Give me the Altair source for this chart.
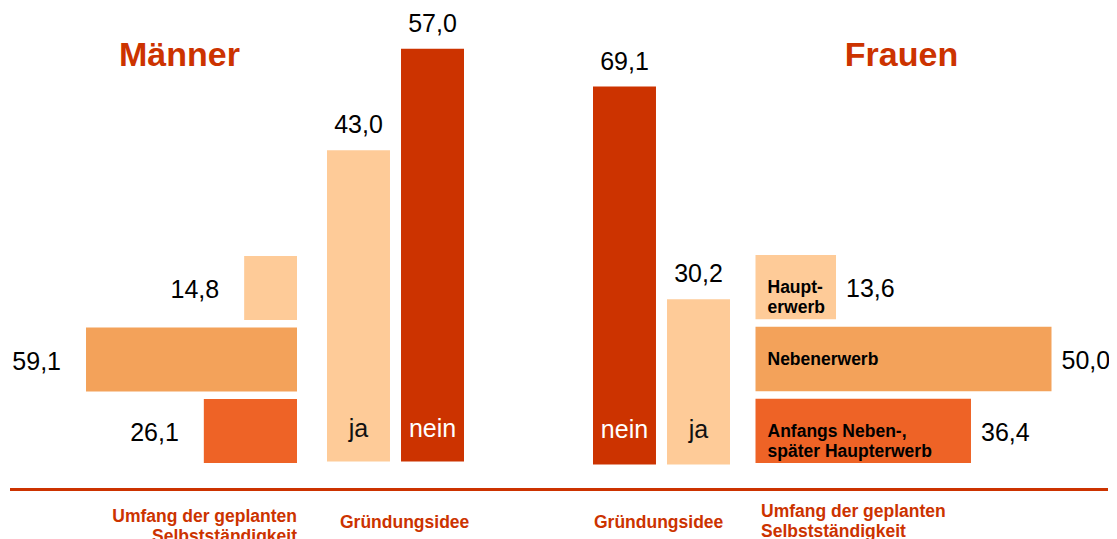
import altair as alt
import pandas as pd

# ---------------- data ----------------
umfang_cats = ["Haupterwerb", "Nebenerwerb", "Anfangs Neben-, später Haupterwerb"]
umfang_inner = ["Haupt-\nerwerb", "Nebenerwerb", "Anfangs Neben-,\nspäter Haupterwerb"]
maenner_umfang = [14.8, 59.1, 26.1]
frauen_umfang = [13.6, 50.0, 36.4]

idee_cats_m = ["ja", "nein"]
maenner_idee = [43.0, 57.0]
idee_cats_f = ["nein", "ja"]
frauen_idee = [69.1, 30.2]

titles = ["Männer", "Frauen"]
label_umfang = "Umfang der geplanten\nSelbstständigkeit"
label_idee = "Gründungsidee"

# ---------------- style ----------------
FONT = "Liberation Sans, Arial, Helvetica, sans-serif"
PEACH = "#FECB98"
MID = "#F3A25A"
ORANGE = "#EE6326"
RED = "#CC3300"
VAL_SIZE = 25


def fmt(v):
    return f"{v:.1f}".replace(".", ",")


color_enc = alt.Color(
    "cat:N",
    scale=alt.Scale(domain=umfang_cats + ["ja", "nein"],
                    range=[PEACH, MID, ORANGE, PEACH, RED]),
    legend=None,
)

# ---------------- Männer: Umfang (horizontal, growing left) ----------------
df_mu = pd.DataFrame({"cat": umfang_cats, "value": maenner_umfang,
                      "label": [fmt(v) for v in maenner_umfang]})
x1 = alt.Scale(domain=[0, 60], range=[289, 74.8], nice=False, zero=True)
yU1 = alt.Scale(type="band", domain=umfang_cats, range=[248, 455], paddingInner=0.105, paddingOuter=0)
p1 = alt.layer(
    alt.Chart(df_mu).mark_bar().encode(
        x=alt.X("value:Q", scale=x1, axis=None),
        y=alt.Y("cat:N", scale=yU1, axis=None, sort=None),
        color=color_enc),
    alt.Chart(df_mu).mark_text(align="right", baseline="middle", dx=-25, dy=2,
                               fontSize=VAL_SIZE, font=FONT, color="#000").encode(
        x=alt.X("value:Q", scale=x1, axis=None),
        y=alt.Y("cat:N", scale=yU1, axis=None, sort=None),
        text="label:N"),
)

# ---------------- Männer: Gründungsidee (vertical) ----------------
df_mi = pd.DataFrame({"cat": idee_cats_m, "value": maenner_idee,
                      "label": [fmt(v) for v in maenner_idee]})
x2 = alt.Scale(type="band", domain=idee_cats_m, range=[319, 456], paddingInner=0.149, paddingOuter=0)
y2 = alt.Scale(domain=[0, 60], range=[453.5, 19.1], nice=False, zero=True)
p2 = alt.layer(
    alt.Chart(df_mi).mark_bar().encode(
        x=alt.X("cat:N", scale=x2, axis=None, sort=None),
        y=alt.Y("value:Q", scale=y2, axis=None),
        color=color_enc),
    alt.Chart(df_mi).mark_text(baseline="alphabetic", dy=-17, fontSize=VAL_SIZE,
                               font=FONT, color="#000").encode(
        x=alt.X("cat:N", scale=x2, axis=None, sort=None),
        y=alt.Y("value:Q", scale=y2, axis=None),
        text="label:N"),
    alt.Chart(df_mi).transform_calculate(base="0").transform_filter(
        alt.datum.cat == "ja").mark_text(baseline="alphabetic", dy=-25, fontSize=VAL_SIZE,
                                         font=FONT, color="#111").encode(
        x=alt.X("cat:N", scale=x2, axis=None, sort=None),
        y=alt.Y("base:Q", scale=y2, axis=None),
        text="cat:N"),
    alt.Chart(df_mi).transform_calculate(base="0").transform_filter(
        alt.datum.cat == "nein").mark_text(baseline="alphabetic", dy=-25, fontSize=VAL_SIZE,
                                           font=FONT, color="#FFFFFF").encode(
        x=alt.X("cat:N", scale=x2, axis=None, sort=None),
        y=alt.Y("base:Q", scale=y2, axis=None),
        text="cat:N"),
)

# ---------------- Frauen: Gründungsidee (vertical) ----------------
df_fi = pd.DataFrame({"cat": idee_cats_f, "value": frauen_idee,
                      "label": [fmt(v) for v in frauen_idee]})
x3 = alt.Scale(type="band", domain=idee_cats_f, range=[585, 722], paddingInner=0.149, paddingOuter=0)
y3 = alt.Scale(domain=[0, 80], range=[456.5, 18.9], nice=False, zero=True)
p3 = alt.layer(
    alt.Chart(df_fi).mark_bar().encode(
        x=alt.X("cat:N", scale=x3, axis=None, sort=None),
        y=alt.Y("value:Q", scale=y3, axis=None),
        color=color_enc),
    alt.Chart(df_fi).mark_text(baseline="alphabetic", dy=-17, fontSize=VAL_SIZE,
                               font=FONT, color="#000").encode(
        x=alt.X("cat:N", scale=x3, axis=None, sort=None),
        y=alt.Y("value:Q", scale=y3, axis=None),
        text="label:N"),
    alt.Chart(df_fi).transform_calculate(base="0").transform_filter(
        alt.datum.cat == "ja").mark_text(baseline="alphabetic", dy=-27, fontSize=VAL_SIZE,
                                         font=FONT, color="#111").encode(
        x=alt.X("cat:N", scale=x3, axis=None, sort=None),
        y=alt.Y("base:Q", scale=y3, axis=None),
        text="cat:N"),
    alt.Chart(df_fi).transform_calculate(base="0").transform_filter(
        alt.datum.cat == "nein").mark_text(baseline="alphabetic", dy=-27, fontSize=VAL_SIZE,
                                           font=FONT, color="#FFFFFF").encode(
        x=alt.X("cat:N", scale=x3, axis=None, sort=None),
        y=alt.Y("base:Q", scale=y3, axis=None),
        text="cat:N"),
)

# ---------------- Frauen: Umfang (horizontal, growing right) ----------------
df_fu = pd.DataFrame({"cat": umfang_cats, "value": frauen_umfang, "inner": umfang_inner,
                      "label": [fmt(v) for v in frauen_umfang]})
x4 = alt.Scale(domain=[0, 60], range=[747.5, 1102.7], nice=False, zero=True)
yU4 = alt.Scale(type="band", domain=umfang_cats, range=[247, 455], paddingInner=0.105, paddingOuter=0)
p4 = alt.layer(
    alt.Chart(df_fu).mark_bar().encode(
        x=alt.X("value:Q", scale=x4, axis=None),
        y=alt.Y("cat:N", scale=yU4, axis=None, sort=None),
        color=color_enc),
    alt.Chart(df_fu).mark_text(align="left", baseline="middle", dx=10, dy=2,
                               fontSize=VAL_SIZE, font=FONT, color="#000").encode(
        x=alt.X("value:Q", scale=x4, axis=None),
        y=alt.Y("cat:N", scale=yU4, axis=None, sort=None),
        text="label:N"),
    alt.Chart(df_fu).transform_calculate(base="0").mark_text(
        align="left", baseline="middle", dx=12, dy=1, fontSize=17.5, fontWeight="bold",
        font=FONT, color="#000", lineBreak="\n", lineHeight=20).encode(
        x=alt.X("base:Q", scale=x4, axis=None),
        y=alt.Y("cat:N", scale=yU4, axis=None, sort=None),
        text="inner:N"),
)

# ---------------- annotations ----------------
one = pd.DataFrame({"k": [0]})


def note(text, x, y, align, size, weight="bold", color=RED):
    return alt.Chart(pd.DataFrame({"t": [text]})).mark_text(
        align=align, baseline="alphabetic", fontSize=size, fontWeight=weight,
        font=FONT, color=color, lineBreak="\n", lineHeight=19.5).encode(
        x=alt.value(x), y=alt.value(y), text="t:N")


ann = [
    note(titles[0], 171.5, 58, "center", 34),
    note(titles[1], 893.5, 58, "center", 34),
    alt.Chart(one).mark_rule(color=RED, strokeWidth=3).encode(
        x=alt.value(2), x2=alt.value(1100), y=alt.value(481.5)),
    note(label_umfang, 289, 514, "right", 17.5),
    note(label_idee, 332, 520, "left", 17.5),
    note(label_idee, 586, 520, "left", 17.5),
    note(label_umfang, 753, 509, "left", 17.5),
]

chart = alt.layer(p1, p2, p3, p4, *ann).resolve_scale(
    x="independent", y="independent"
).properties(
    width=1101, height=531,
    autosize=alt.AutoSizeParams(type="none"),
    padding=0,
).configure_view(stroke=None)

chart.save("out.html", embed_options={"renderer": "svg", "actions": False})
